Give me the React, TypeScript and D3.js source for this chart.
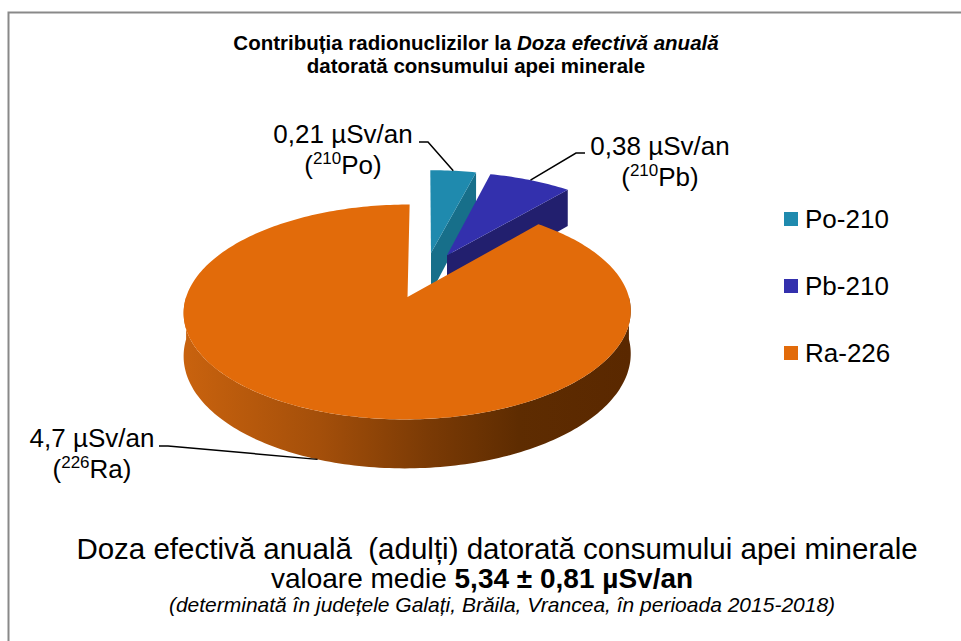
import React from 'react'
import * as d3 from 'd3'

// chart data
const nuclides = ['Po-210', 'Pb-210', 'Ra-226']
const doses = [0.21, 0.38, 4.7]
const doseLabels = ['0,21 µSv/an', '0,38 µSv/an', '4,7 µSv/an']
const massNumbers = ['210', '210', '226']
const symbols = ['Po', 'Pb', 'Ra']
const topColors = ['#1f8aae', '#3330ad', '#e26b0a']
const sideColors = ['#176f8a', '#221f6e', '#9a4a08']

const titleLines = ['Contribuția radionuclizilor la ', 'Doza efectivă anuală', 'datorată consumului apei minerale']
const footLine1 = 'Doza efectivă anuală  (adulți) datorată consumului apei minerale'
const footLine2 = ['valoare medie ', '5,34 ± 0,81 µSv/an']
const footLine3 = '(determinată în județele Galați, Brăila, Vrancea, în perioada 2015-2018)'

// 3d pie layout
const CX = 425
const CY = 275
const RX = 215
const RY = 99.4
const PERSP = 0.134
const DEPTH = 41
const EXPLODE = 0.23

// label placement: centre of text, leader start, leader direction
const labelLayout = [
  {x: 343, y: 143, lx: 419, ly: 142, dir: 1},
  {x: 660, y: 155, lx: 585, ly: 153, dir: -1},
  {x: 92, y: 447, lx: 159, ly: 446, dir: 1},
]

const proj = (u: number, v: number, z: number): [number, number] => {
  const s = 1 / (1 + PERSP * v)
  return [CX + RX * u * s, CY - RY * v * s + DEPTH * z * s]
}

const line = d3.line()

export default function App() {
  const arcs = d3.pie<number>().sort(null).startAngle(0).endAngle(2 * Math.PI)(doses)

  const slices = arcs.map((a, i) => {
    const mid = (a.startAngle + a.endAngle) / 2
    const ou = EXPLODE * Math.sin(mid)
    const ov = EXPLODE * Math.cos(mid)
    const rim = (t: number, z: number) => proj(ou + Math.sin(t), ov + Math.cos(t), z)
    const apex = (z: number) => proj(ou, ov, z)
    const samples = (t0: number, t1: number, z: number) => {
      const n = Math.max(2, Math.ceil((t1 - t0) / 0.02))
      return d3.range(n + 1).map(k => rim(t0 + (t1 - t0) * k / n, z))
    }
    const top = line([apex(0), ...samples(a.startAngle, a.endAngle, 0)]) + 'Z'
    const faces: {d: string, fill: string}[] = []
    if (Math.sin(a.startAngle) < -1e-6) {
      faces.push({d: line([apex(0), rim(a.startAngle, 0), rim(a.startAngle, 1), apex(1)]) + 'Z', fill: sideColors[i]})
    }
    if (Math.sin(a.endAngle) > 1e-6) {
      faces.push({d: line([apex(0), rim(a.endAngle, 0), rim(a.endAngle, 1), apex(1)]) + 'Z', fill: sideColors[i]})
    }
    const lo = Math.max(a.startAngle, Math.PI / 2)
    const hi = Math.min(a.endAngle, 3 * Math.PI / 2)
    if (lo < hi) {
      const up = samples(lo, hi, 0)
      const down = samples(lo, hi, 1).reverse()
      faces.push({d: line([...up, ...down]) + 'Z', fill: i === 2 ? 'url(#raWall)' : sideColors[i]})
    }
    // leader target on the rim
    const front = Math.cos(mid) < 0
    const target = rim(mid, front ? 1 : 0)
    return {i, mid, top, faces, target}
  })

  const order = [...slices].sort((p, q) => Math.cos(q.mid) - Math.cos(p.mid))
  const font = "'Liberation Sans', Arial, sans-serif"

  return (
    <svg width={961} height={641} style={{position: 'absolute', left: 0, top: 0}} fontFamily={font}>
      <defs>
        <linearGradient id="raWall" gradientUnits="userSpaceOnUse" x1={186} x2={630} y1={0} y2={0}>
          <stop offset="0" stopColor="#c8620e" />
          <stop offset="0.3" stopColor="#a44f0a" />
          <stop offset="0.55" stopColor="#7a3a05" />
          <stop offset="0.75" stopColor="#5e2c01" />
          <stop offset="1" stopColor="#5a2800" />
        </linearGradient>
      </defs>
      <rect x={0} y={0} width={961} height={641} fill="#fff" />
      <rect x={8.5} y={12.5} width={1000} height={700} fill="none" stroke="#898989" strokeWidth={2} />

      <text x={476} y={50} textAnchor="middle" fontWeight="bold" fontSize={20.5}>
        <tspan>{titleLines[0]}</tspan>
        <tspan fontStyle="italic">{titleLines[1]}</tspan>
      </text>
      <text x={476} y={73} textAnchor="middle" fontWeight="bold" fontSize={20.5}>{titleLines[2]}</text>

      {order.map(s => (
        <g key={s.i}>
          {s.faces.map((f, k) => <path key={k} d={f.d} fill={f.fill} />)}
          <path d={s.top} fill={topColors[s.i]} />
        </g>
      ))}

      {slices.map(s => {
        const L = labelLayout[s.i]
        const pts: [number, number][] = [[L.lx, L.ly], [L.lx + L.dir * 9, L.ly], s.target]
        return (
          <g key={'lab' + s.i}>
            <path d={line(pts) || ''} fill="none" stroke="#000" strokeWidth={1.5} />
            <text x={L.x} y={L.y} textAnchor="middle" fontSize={26}>{doseLabels[s.i]}</text>
            <text x={L.x} y={L.y + 31} textAnchor="middle" fontSize={26}>
              <tspan>(</tspan>
              <tspan fontSize={17} dy={-10}>{massNumbers[s.i]}</tspan>
              <tspan dy={10}>{symbols[s.i]})</tspan>
            </text>
          </g>
        )
      })}

      {nuclides.map((n, i) => (
        <g key={n} transform={`translate(784,${228 + i * 67})`}>
          <rect x={0} y={-16} width={14} height={14} fill={topColors[i]} />
          <text x={21} y={0} fontSize={26}>{n}</text>
        </g>
      ))}

      <text x={497} y={559} textAnchor="middle" fontSize={29.5} style={{whiteSpace: 'pre'}}>{footLine1}</text>
      <text x={482} y={588} textAnchor="middle" fontSize={28}>
        <tspan>{footLine2[0]}</tspan>
        <tspan fontWeight="bold">{footLine2[1]}</tspan>
      </text>
      <text x={502} y={612} textAnchor="middle" fontSize={21} fontStyle="italic">{footLine3}</text>
    </svg>
  )
}
